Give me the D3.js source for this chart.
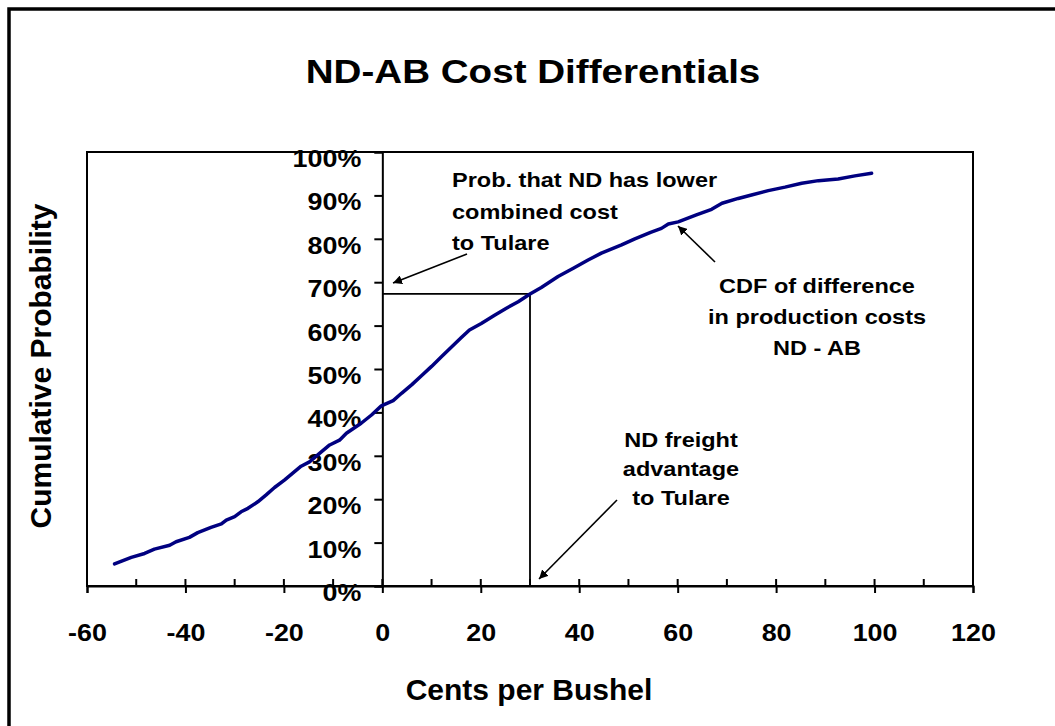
<!DOCTYPE html>
<html>
<head>
<meta charset="utf-8">
<script src="https://cdn.jsdelivr.net/npm/d3@7"></script>
<style>
  body { margin: 0; background: #fff; }
  text { font-family: "Liberation Sans", Arial, sans-serif; font-weight: bold; fill: #000; }
</style>
</head>
<body>
<script>
// cents per bushel (ND - AB) and cumulative probability
const cents = [-54.4, -51, -48.3, -46.3, -43.2, -41.9, -39.2, -37.5, -34.8, -32.7, -31.7, -30,
  -28.7, -27.3, -25.3, -23.6, -21.9, -19.9, -18.2, -16.5, -14.8, -12.7, -10.7, -8.7, -7.3,
  -4.3, -2.2, -0.2, 2.2, 3.9, 6, 8, 10, 12, 14, 16, 17.7, 20.1, 22.8, 25.2, 27.6, 30, 32.3,
  35.7, 38.8, 41.8, 44.5, 48.6, 51.3, 54.5, 56.7, 58.1, 60.1, 63.8, 66.9, 69, 72.3, 75,
  78.4, 81.8, 85.2, 88.6, 92.6, 96, 99.4];
const prob = [5.1, 6.6, 7.5, 8.5, 9.4, 10.2, 11.2, 12.3, 13.5, 14.3, 15.2, 16.0,
  17.1, 17.9, 19.4, 21.0, 22.7, 24.4, 26.0, 27.6, 28.6, 30.6, 32.5, 33.6, 35.2,
  37.5, 39.4, 41.5, 42.7, 44.4, 46.4, 48.5, 50.6, 52.8, 55.0, 57.2, 59.0, 60.5, 62.4, 64.0, 65.5, 67.3, 68.8,
  71.3, 73.2, 75.1, 76.7, 78.6, 80.0, 81.5, 82.4, 83.4, 83.9, 85.5, 86.8, 88.2, 89.3, 90.1,
  91.1, 91.9, 92.8, 93.4, 93.8, 94.5, 95.1];

const xMajor = [-60, -40, -20, 0, 20, 40, 60, 80, 100, 120];
const xMinor = [-50, -30, -10, 10, 30, 50, 70, 90, 110];
const yTicks = [0, 0.1, 0.2, 0.3, 0.4, 0.5, 0.6, 0.7, 0.8, 0.9, 1];

// freight advantage and matching probability
const freight = 30;
const freightProb = 67.3;

const width = 1055, height = 726;
const sx = 1.12; // text in the source is a bit wide

const svg = d3.select("body").append("svg")
  .attr("width", width)
  .attr("height", height);

// outer border (right / bottom run off the picture)
svg.append("rect")
  .attr("x", 9).attr("y", 9)
  .attr("width", 1100).attr("height", 800)
  .attr("fill", "none").attr("stroke", "#000").attr("stroke-width", 3.5);

const x = d3.scaleLinear().domain([-60, 120]).range([87, 973]);
const y = d3.scaleLinear().domain([0, 1]).range([586, 152]);

// plot box
svg.append("rect")
  .attr("x", x(-60)).attr("y", y(1))
  .attr("width", x(120) - x(-60)).attr("height", y(0) - y(1))
  .attr("fill", "none").attr("stroke", "#000").attr("stroke-width", 2);

function label(g, px, py, str, size, anchor, k) {
  return g.append("text")
    .attr("transform", `translate(${px},${py}) scale(${k || sx},1)`)
    .attr("text-anchor", anchor || "middle")
    .attr("font-size", size)
    .text(str);
}

// title
label(svg, 533, 83, "ND-AB Cost Differentials", 33, "middle", 1.17);

// x axis
const xAxis = svg.append("g")
  .attr("transform", `translate(0,${y(0)})`)
  .call(d3.axisBottom(x).tickValues(xMajor).tickSize(7).tickPadding(31).tickFormat(d => d));
xAxis.select(".domain").attr("stroke-width", 2);
xAxis.selectAll(".tick line").attr("stroke-width", 2);
xAxis.selectAll(".tick text")
  .attr("font-size", 24)
  .attr("font-family", null)
  .attr("transform", `scale(${sx},1)`);
// ticks also poke up into the plot, minor ones only up
svg.append("g").selectAll("line")
  .data(xMajor.concat(xMinor))
  .join("line")
  .attr("x1", d => x(d)).attr("x2", d => x(d))
  .attr("y1", y(0)).attr("y2", y(0) - 7)
  .attr("stroke", "#000").attr("stroke-width", 2);

// y axis sits at x = 0
const yAxis = svg.append("g")
  .attr("transform", `translate(${x(0)},0)`)
  .call(d3.axisLeft(y).tickValues(yTicks).tickSize(8).tickFormat(d3.format(".0%")));
yAxis.select(".domain").attr("stroke-width", 2);
yAxis.selectAll(".tick line").attr("stroke-width", 2);
yAxis.selectAll(".tick text")
  .attr("font-size", 24)
  .attr("font-family", null)
  .attr("x", -21 / sx)
  .attr("dy", "0.6em")
  .attr("transform", `scale(${sx},1)`);

// axis titles
label(svg, 529, 700, "Cents per Bushel", 30, "middle", 1);
svg.append("text")
  .attr("transform", "translate(51,366) rotate(-90)")
  .attr("text-anchor", "middle")
  .attr("font-size", 30)
  .text("Cumulative Probability");

// reference lines at the freight advantage
svg.append("path")
  .attr("d", `M${x(0)},${y(freightProb / 100)}H${x(freight)}V${y(0)}`)
  .attr("fill", "none").attr("stroke", "#000").attr("stroke-width", 1.8);

// CDF curve
const pts = cents.map((c, i) => [c, prob[i] / 100]);
svg.append("path")
  .datum(pts)
  .attr("d", d3.line().x(d => x(d[0])).y(d => y(d[1])))
  .attr("fill", "none")
  .attr("stroke", "#000080")
  .attr("stroke-width", 3.5)
  .attr("stroke-linejoin", "round")
  .attr("stroke-linecap", "round");

// arrows
svg.append("defs").append("marker")
  .attr("id", "head")
  .attr("viewBox", "0 0 10 10")
  .attr("refX", 10).attr("refY", 5)
  .attr("markerWidth", 9).attr("markerHeight", 9)
  .attr("markerUnits", "userSpaceOnUse")
  .attr("orient", "auto")
  .append("path").attr("d", "M0,0L10,5L0,10Z").attr("fill", "#000");

const arrows = [
  [467, 254, 393, 283],
  [715, 262, 678, 226],
  [617, 500, 539, 579]
];
svg.append("g").selectAll("line")
  .data(arrows)
  .join("line")
  .attr("x1", d => d[0]).attr("y1", d => d[1])
  .attr("x2", d => d[2]).attr("y2", d => d[3])
  .attr("stroke", "#000").attr("stroke-width", 1.6)
  .attr("marker-end", "url(#head)");

// annotations
const note1 = ["Prob. that ND has lower", "combined cost", "to Tulare"];
const note2 = ["CDF of difference", "in production costs", "ND - AB"];
const note3 = ["ND freight", "advantage", "to Tulare"];
note1.forEach((t, i) => label(svg, 452, 187 + i * 31.7, t, 21, "start"));
note2.forEach((t, i) => label(svg, 817, 293 + i * 31, t, 21, "middle"));
note3.forEach((t, i) => label(svg, 681, 447 + i * 29, t, 21, "middle"));
</script>
</body>
</html>
